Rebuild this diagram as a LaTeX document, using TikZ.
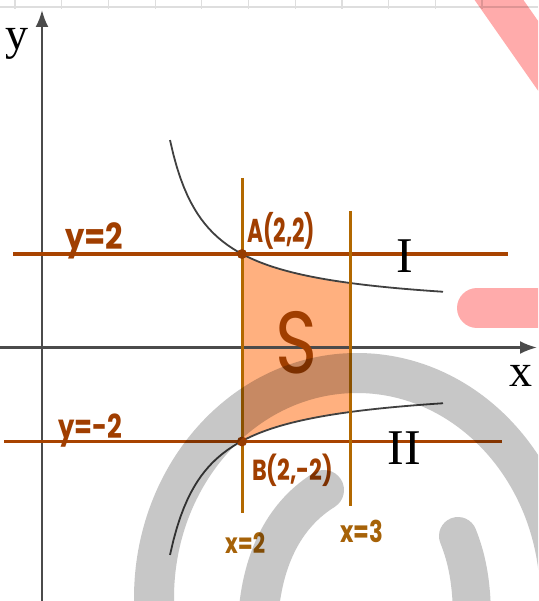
\documentclass[tikz,border=0pt]{standalone}
\usepackage{fontspec}
\usepackage{graphicx}
\usetikzlibrary{arrows.meta}
\newfontfamily\serifX{Liberation Serif}
\newfontfamily\handfont{Poppins}
\newcommand\hwtext[3]{\resizebox{#1}{\height}{\fontsize{#2}{#2}\selectfont\handfont\bfseries #3}}
\newcommand\hwthin[3]{\resizebox{#1}{\height}{\fontsize{#2}{#2}\selectfont\handfont #3}}
\definecolor{hline}{RGB}{168,67,0}
\definecolor{vline}{RGB}{178,104,0}
\definecolor{hlab}{RGB}{160,62,0}
\definecolor{vlab}{RGB}{166,98,8}
\definecolor{fillc}{RGB}{255,176,127}
\definecolor{axisc}{RGB}{75,75,75}
\definecolor{gridc}{RGB}{222,222,222}
\definecolor{wmgray}{RGB}{199,199,199}
\definecolor{wmpink}{RGB}{255,171,171}
\tikzset{
  axis/.style={axisc, line width=2.4pt, -{Latex[length=17pt,width=13pt]}},
  hl/.style={hline, line width=3.5pt},
  vl/.style={vline, line width=3pt},
  curve/.style={black!75, line width=1.8pt},
  dotA/.style={circle, fill=hline!90!black, inner sep=0pt, minimum size=10pt},
  lab/.style={inner sep=0pt, anchor=base west},
  big/.style={inner sep=0pt, anchor=center, font=\serifX\fontsize{46}{46}\selectfont},
  wm/.style={wmgray},
  pk/.style={wmpink}
}
\begin{document}
\begin{tikzpicture}[x=1pt, y=-1pt]
\useasboundingbox (0,0) rectangle (538,601);
\clip (0,0) rectangle (538,601);
\fill[white] (0,0) rectangle (538,601);
% top grid strip
\draw[gridc, line width=1.5pt] (0,7) -- (538,7);
\foreach \k in {0,...,10} {
  \draw[gridc, line width=1.2pt] ({15+46.7*\k},0) -- ({15+46.7*\k},9);
}
% shaded region S
\fill[fillc] plot[domain=242:350, samples=40] (\x, {312.2-6334/(\x-133.2)})
  -- plot[domain=350:242, samples=40] (\x, {382.8+6334/(\x-133.2)}) -- cycle;
% axes
\coordinate (ybot) at (42,601);
\coordinate (ytop) at (42,10);
\coordinate (xl) at (0,347.5);
\coordinate (xr) at (537,347.5);
\draw[axis] (ybot) -- (ytop);
\draw[axis] (xl) -- (xr);
\node[big] (ylab) at (17,44) {y};
\node[big] (xlab) at (521,376) {x};
% curves
\draw[curve] plot[domain=170:443, samples=80] (\x, {312.2-6334/(\x-133.2)});
\draw[curve] plot[domain=170:443, samples=80] (\x, {382.8+6334/(\x-133.2)});
% horizontal lines
\coordinate (h1l) at (13,254);
\coordinate (h1r) at (508,254);
\coordinate (h2l) at (4,441.5);
\coordinate (h2r) at (502,441.5);
\draw[hl] (h1l) -- (h1r);
\draw[hl] (h2l) -- (h2r);
% vertical lines
\coordinate (v1t) at (242,178);
\coordinate (v1b) at (242,513);
\coordinate (v2t) at (350,211);
\coordinate (v2b) at (350,506);
\draw[vl] (v1t) -- (v1b);
\draw[vl] (v2t) -- (v2b);
% points
\node[dotA] (A) at (242,254) {};
\node[dotA] (B) at (242,441.5) {};
% roman numerals
\node[big, font=\serifX\fontsize{50}{50}\selectfont] (r1) at (405,256) {I};
\node[big, font=\serifX\fontsize{50}{50}\selectfont] (r2) at (404,448) {II};
% handwritten labels
\node[lab, hlab] (ly2) at (65,250) {\hwtext{58pt}{36}{y=2}};
\node[lab, hlab] (lym2) at (58,438) {\hwtext{64pt}{33}{y=-2}};
\node[lab, hlab] (lA) at (247,243) {\hwtext{68pt}{33}{A(2,2)}};
\node[lab, hlab] (lB) at (252,480) {\hwtext{81pt}{29}{B(2,-2)}};
\node[lab, hlab] (lS) at (275,373) {\hwthin{42pt}{88}{S}};
\node[lab, vlab] (lx2) at (225,553) {\hwtext{40pt}{28}{x=2}};
\node[lab, vlab] (lx3) at (340,542) {\hwtext{43pt}{30}{x=3}};
% watermarks
\begin{scope}[blend mode=multiply]
\draw[wm, line width=40pt] (357,598) ellipse [x radius=203pt, y radius=225pt];
\draw[wm, line width=40pt, line cap=round] (324,490) .. controls (287,513) and (262,555) .. (258,620);
\draw[wm, line width=38pt, line cap=round] (458,536) .. controls (466,556) and (472,580) .. (472,620);
\draw[pk, line width=40pt] (478,-30) -- (583,120);
\draw[pk, line width=40pt, line cap=round] (477,308) -- (600,308);
\end{scope}
\end{tikzpicture}
\end{document}
